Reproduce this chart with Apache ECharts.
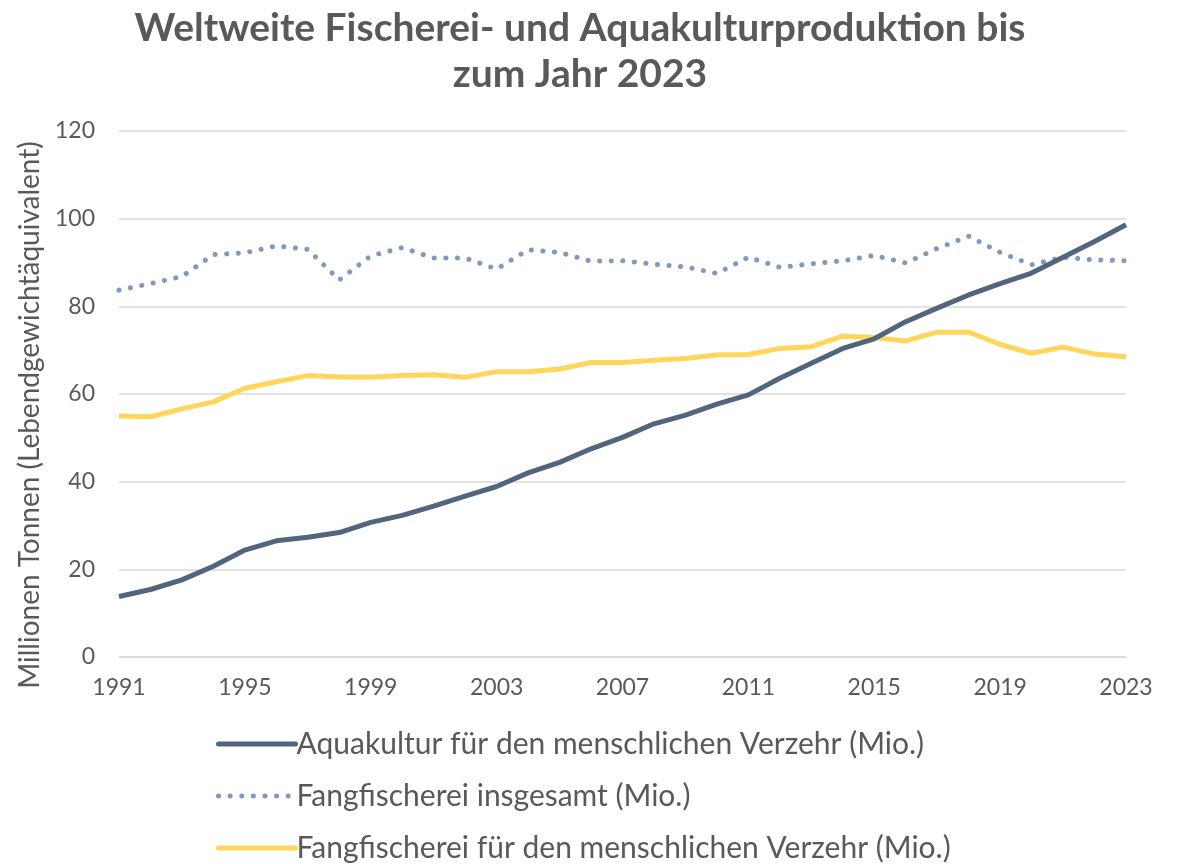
<!DOCTYPE html>
<html>
<head>
<meta charset="utf-8">
<title>Fischerei und Aquakultur</title>
<script src="https://cdn.jsdelivr.net/npm/echarts@6/dist/echarts.min.js"></script>
<style>
  html, body { margin: 0; padding: 0; background: #fff; }
  #chart { width: 1181px; height: 864px; }
</style>
</head>
<body>
<div id="chart"></div>
<script>
// Jahre 1991-2023
var years = [];
for (var y = 1991; y <= 2023; y++) { years.push(String(y)); }

var seriesNames = [
  'Aquakultur für den menschlichen Verzehr (Mio.)',
  'Fangfischerei insgesamt (Mio.)',
  'Fangfischerei für den menschlichen Verzehr (Mio.)'
];

// Werte in Mio. Tonnen
var aquakultur = [13.8, 15.4, 17.6, 20.7, 24.4, 26.5, 27.3, 28.4, 30.7, 32.3,
  34.4, 36.7, 38.9, 42.0, 44.4, 47.5, 50.1, 53.2, 55.2, 57.7,
  59.8, 63.6, 67.0, 70.4, 72.6, 76.5, 79.6, 82.6, 85.2, 87.6,
  91.2, 94.8, 98.6];

var fangGesamt = [83.7, 85.2, 86.8, 91.8, 92.2, 93.8, 93.0, 86.0, 91.5, 93.4,
  91.0, 91.0, 88.5, 92.9, 92.3, 90.3, 90.4, 89.6, 89.0, 87.5,
  91.2, 88.9, 89.7, 90.4, 91.6, 89.9, 93.2, 96.0, 92.3, 89.5,
  91.2, 90.6, 90.4];

var fangMensch = [55.0, 54.8, 56.6, 58.2, 61.3, 62.8, 64.2, 63.9, 63.8, 64.2,
  64.4, 63.8, 65.1, 65.1, 65.7, 67.2, 67.2, 67.7, 68.1, 68.9,
  69.0, 70.4, 70.8, 73.2, 72.9, 72.1, 74.1, 74.1, 71.3, 69.3,
  70.7, 69.1, 68.5];

var yTicks = [0, 20, 40, 60, 80, 100, 120];

var textColor = '#595959';
var fontFam = 'Lato, "Noto Sans", sans-serif';

var chart = echarts.init(document.getElementById('chart'));

var option = {
  backgroundColor: '#ffffff',
  animation: false,
  title: {
    text: 'Weltweite Fischerei- und Aquakulturproduktion bis\nzum Jahr 2023',
    left: 575,
    top: 0,
    textAlign: 'center',
    textStyle: {
      fontFamily: fontFam,
      fontSize: 39,
      fontWeight: 'bold',
      color: '#595959',
      lineHeight: 46
    }
  },
  grid: {
    left: 119,
    right: 55,
    top: 131,
    bottom: 207,
    containLabel: false
  },
  legend: {
    orient: 'vertical',
    left: 216,
    top: 729,
    padding: 0,
    itemWidth: 77,
    itemHeight: 14,
    itemGap: 22,
    itemStyle: { opacity: 0 },
    lineStyle: { width: 5, cap: 'round' },
    textStyle: {
      fontFamily: fontFam,
      fontSize: 30,
      color: textColor,
      padding: [0, 0, 0, -4]
    },
    data: seriesNames
  },
  xAxis: {
    type: 'category',
    data: years,
    boundaryGap: false,
    axisLine: { lineStyle: { color: '#d9d9d9', width: 1.5 } },
    axisTick: { show: false },
    axisLabel: {
      interval: 3,
      color: textColor,
      fontFamily: fontFam,
      fontSize: 23,
      margin: 19
    }
  },
  yAxis: {
    type: 'value',
    min: yTicks[0],
    max: yTicks[yTicks.length - 1],
    interval: 20,
    name: 'Millionen Tonnen (Lebendgewichtäquivalent)',
    nameLocation: 'middle',
    nameGap: 74,
    nameTextStyle: {
      fontFamily: fontFam,
      fontSize: 28,
      color: textColor,
      padding: [0, 42, 0, 0]
    },
    axisLine: { show: false },
    axisTick: { show: false },
    axisLabel: {
      color: textColor,
      fontFamily: fontFam,
      fontSize: 23,
      margin: 24
    },
    splitLine: { lineStyle: { color: '#d9d9d9', width: 1.5 } }
  },
  series: [
    {
      name: seriesNames[0],
      type: 'line',
      data: aquakultur,
      showSymbol: false,
      symbol: 'none',
      lineStyle: { color: '#53657c', width: 5 },
      itemStyle: { color: '#53657c' },
      z: 3
    },
    {
      name: seriesNames[1],
      type: 'line',
      data: fangGesamt,
      showSymbol: false,
      symbol: 'none',
      lineStyle: { color: '#8299bb', width: 5, type: [0.1, 11.5], cap: 'round' },
      itemStyle: { color: '#8299bb' },
      z: 2
    },
    {
      name: seriesNames[2],
      type: 'line',
      data: fangMensch,
      showSymbol: false,
      symbol: 'none',
      lineStyle: { color: '#ffd65c', width: 5 },
      itemStyle: { color: '#ffd65c' },
      z: 1
    }
  ]
};

chart.setOption(option);
</script>
</body>
</html>
